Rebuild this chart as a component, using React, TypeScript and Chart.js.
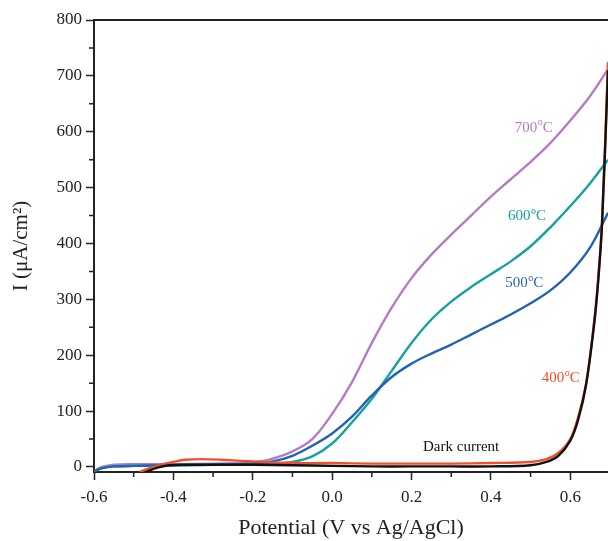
import React, { useEffect, useRef } from "react";
import { Chart, registerables } from "chart.js";

Chart.register(...registerables);

const potential700 = [-0.6, -0.58, -0.55, -0.5, -0.4, -0.3, -0.2, -0.15, -0.1, -0.05, 0, 0.05, 0.1, 0.15, 0.2, 0.25, 0.3, 0.35, 0.4, 0.45, 0.5, 0.55, 0.6, 0.65, 0.695];
const current700 = [-8, 0, 4, 5, 5, 6, 8, 15, 28, 50, 95, 152, 222, 285, 338, 380, 416, 450, 484, 515, 546, 580, 620, 664, 712];

const potential600 = [-0.6, -0.58, -0.55, -0.5, -0.4, -0.3, -0.2, -0.15, -0.1, -0.05, 0, 0.05, 0.1, 0.15, 0.2, 0.25, 0.3, 0.35, 0.4, 0.45, 0.5, 0.55, 0.6, 0.65, 0.695];
const current600 = [-8, -2, 1, 2, 3, 4, 5, 6, 9, 19, 42, 80, 122, 172, 222, 264, 296, 322, 345, 368, 395, 429, 467, 508, 550];

const potential500 = [-0.6, -0.58, -0.55, -0.5, -0.4, -0.3, -0.2, -0.15, -0.1, -0.05, 0, 0.05, 0.1, 0.15, 0.2, 0.25, 0.3, 0.35, 0.4, 0.45, 0.5, 0.55, 0.6, 0.65, 0.695];
const current500 = [-8, -2, 1, 2, 3, 4, 6, 10, 20, 38, 60, 90, 128, 161, 185, 203, 219, 237, 255, 273, 293, 316, 348, 393, 455];

const potential400 = [-0.485, -0.46, -0.43, -0.4, -0.37, -0.33, -0.28, -0.23, -0.17, -0.1, 0, 0.1, 0.2, 0.3, 0.4, 0.5, 0.54, 0.57, 0.6, 0.62, 0.64, 0.66, 0.67, 0.68, 0.695];
const current400 = [-9, -2, 4, 9, 13, 14, 13, 11, 9, 7, 7, 6, 6, 6, 7, 9, 14, 25, 50, 90, 150, 260, 335, 440, 725];

const potentialDark = [-0.47, -0.44, -0.41, -0.38, -0.3, -0.2, -0.1, 0, 0.1, 0.2, 0.3, 0.4, 0.5, 0.54, 0.57, 0.6, 0.62, 0.64, 0.66, 0.67, 0.68, 0.695];
const currentDark = [-9, -1, 3, 4, 4, 4, 3, 2, 1, 1, 1, 1, 3, 9, 20, 47, 85, 148, 255, 330, 435, 710];

const xMajorTicks = [-0.6, -0.4, -0.2, 0, 0.2, 0.4, 0.6];
const xMinorTicks = [-0.5, -0.3, -0.1, 0.1, 0.3, 0.5];
const yMajorTicks = [0, 100, 200, 300, 400, 500, 600, 700, 800];
const yMinorTicks = [50, 150, 250, 350, 450, 550, 650, 750];

const curveLabels = [
  { main: "700", unit: "C", x: 0.46, y: 607, color: "#b47cc4" },
  { main: "600", unit: "C", x: 0.443, y: 449, color: "#17a0a0" },
  { main: "500", unit: "C", x: 0.436, y: 329, color: "#2a64b8" },
  { main: "400", unit: "C", x: 0.528, y: 159, color: "#f0502a" },
];
const darkLabel = { text: "Dark current", x: 0.229, y: 36 };

const SERIF = "'Liberation Serif', 'Times New Roman', serif";
const AXIS = "#222";

function pts(xs: number[], ys: number[]) {
  return xs.map((x, i) => ({ x, y: ys[i] }));
}

const extrasPlugin = {
  id: "extras",
  afterDraw(chart: any) {
    const { ctx, chartArea, scales } = chart;
    const xs = scales.x;
    const ys = scales.y;
    ctx.save();
    ctx.strokeStyle = AXIS;
    ctx.lineWidth = 2;
    ctx.beginPath();
    ctx.moveTo(chartArea.left - 1, chartArea.top);
    ctx.lineTo(chartArea.right + 10, chartArea.top);
    ctx.stroke();
    ctx.lineWidth = 1.5;
    ctx.beginPath();
    xMinorTicks.forEach((v) => {
      const px = xs.getPixelForValue(v);
      ctx.moveTo(px, chartArea.bottom);
      ctx.lineTo(px, chartArea.bottom + 5);
    });
    yMinorTicks.forEach((v) => {
      const py = ys.getPixelForValue(v);
      ctx.moveTo(chartArea.left, py);
      ctx.lineTo(chartArea.left - 5, py);
    });
    ctx.stroke();
    ctx.textBaseline = "middle";
    ctx.textAlign = "left";
    curveLabels.forEach((l) => {
      let px = xs.getPixelForValue(l.x);
      const py = ys.getPixelForValue(l.y);
      ctx.fillStyle = l.color;
      ctx.font = `15px ${SERIF}`;
      ctx.fillText(l.main, px, py);
      px += ctx.measureText(l.main).width + 0.5;
      ctx.font = `10px ${SERIF}`;
      ctx.fillText("o", px, py - 5);
      px += ctx.measureText("o").width;
      ctx.font = `15px ${SERIF}`;
      ctx.fillText(l.unit, px, py);
    });
    ctx.fillStyle = "#111";
    ctx.font = `15px ${SERIF}`;
    ctx.fillText(darkLabel.text, xs.getPixelForValue(darkLabel.x), ys.getPixelForValue(darkLabel.y));
    ctx.restore();
  },
};

export default function App() {
  const ref = useRef<HTMLCanvasElement | null>(null);
  useEffect(() => {
    if (!ref.current) return;
    const line = (data: any[], color: string) => ({
      data,
      borderColor: color,
      backgroundColor: color,
      borderWidth: 2.4,
      pointRadius: 0,
      tension: 0.35,
      fill: false,
    });
    const chart = new Chart(ref.current, {
      type: "line",
      data: {
        datasets: [
          line(pts(potentialDark, currentDark), "#111111"),
          line(pts(potential400, current400), "#f0502a"),
          line(pts(potential500, current500), "#2262b6"),
          line(pts(potential600, current600), "#17a0a0"),
          line(pts(potential700, current700), "#b47cc4"),
        ],
      },
      options: {
        animation: false,
        responsive: false,
        maintainAspectRatio: false,
        layout: { padding: { top: 20, right: 0, left: 0, bottom: 0 } },
        plugins: { legend: { display: false }, tooltip: { enabled: false } },
        scales: {
          x: {
            type: "linear",
            min: -0.6,
            max: 0.695,
            afterBuildTicks: (s: any) => {
              s.ticks = xMajorTicks.map((v) => ({ value: v }));
            },
            afterFit: (s: any) => {
              s.height = 69;
            },
            ticks: {
              color: AXIS,
              font: { family: SERIF, size: 17 },
              padding: 7,
              maxRotation: 0,
              callback: (v: any) => Number(v).toFixed(1),
            },
            grid: { drawOnChartArea: false, drawTicks: true, tickLength: 8, color: AXIS, tickWidth: 1.5 },
            border: { display: true, color: AXIS, width: 2 },
            title: {
              display: true,
              text: "Potential (V vs Ag/AgCl)",
              color: AXIS,
              font: { family: SERIF, size: 22 },
              padding: { top: 4, bottom: 0 },
            },
          },
          y: {
            type: "linear",
            min: -9,
            max: 800,
            afterBuildTicks: (s: any) => {
              s.ticks = yMajorTicks.map((v) => ({ value: v }));
            },
            afterFit: (s: any) => {
              s.width = 94;
            },
            ticks: {
              color: AXIS,
              font: { family: SERIF, size: 17 },
              padding: 4,
              callback: (v: any) => String(v),
            },
            grid: { drawOnChartArea: false, drawTicks: true, tickLength: 8, color: AXIS, tickWidth: 1.5 },
            border: { display: true, color: AXIS, width: 2 },
            title: {
              display: true,
              text: "I (\u03bcA/cm\u00b2)",
              color: AXIS,
              font: { family: SERIF, size: 21 },
              padding: { top: 9, bottom: 8 },
            },
          },
        },
      },
      plugins: [extrasPlugin],
    });
    return () => chart.destroy();
  }, []);
  return (
    <canvas
      ref={ref}
      width={608}
      height={541}
      style={{ display: "block", position: "fixed", left: 0, top: 0 }}
    />
  );
}
